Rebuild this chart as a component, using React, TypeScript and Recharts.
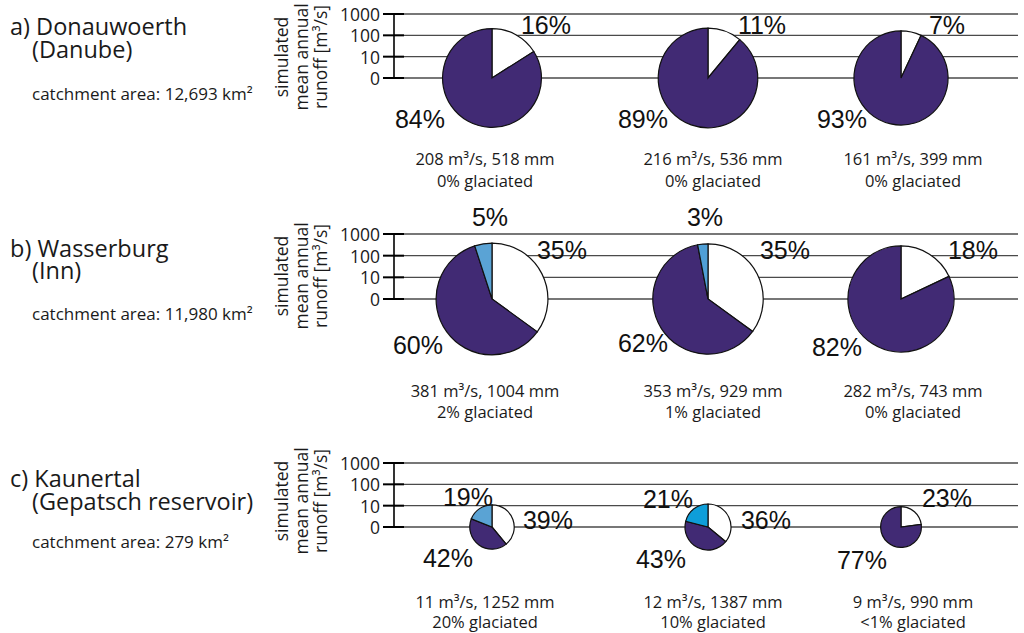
import React from "react";
import { ComposedChart, CartesianGrid, XAxis, YAxis, Line, PieChart, Pie, Cell } from "recharts";

const catchments = ["a) Donauwoerth", "b) Wasserburg", "c) Kaunertal"];
const rivers = ["(Danube)", "(Inn)", "(Gepatsch reservoir)"];
const areas = ["12,693", "11,980", "279"];
const yTicks = [0, 10, 100, 1000];

// runoff components in %, one row per catchment, three periods each
const snowmelt = [[16, 11, 7], [35, 35, 18], [39, 36, 23]];
const rainfall = [[84, 89, 93], [60, 62, 82], [42, 43, 77]];
const icemelt = [[0, 0, 0], [5, 3, 0], [19, 21, 0]];
const runoffM3 = [[208, 216, 161], [381, 353, 282], [11, 12, 9]];
const runoffMm = [[518, 536, 399], [1004, 929, 743], [1252, 1387, 990]];
const glaciated = [["0%", "0%", "0%"], ["2%", "1%", "0%"], ["20%", "10%", "<1%"]];

// layout
const W = 1024;
const H = 633;
const AXIS_X = 394;
const PLOT_RIGHT = 1018;
const Y_AXIS_W = 60;
const PIE_X = [492, 708, 901];
const CAPTION_X = [485, 713, 913];
const SANS = "'Open Sans', 'Noto Sans', sans-serif";
const PCT_FONT = "'Liberation Sans', Arial, sans-serif";
const PURPLE = "#412a74";

const rows = [
  { top: 0, height: 200, y1000: 14, y0: 78, titleY: [35, 58, 100], captionY: [165, 187], axisLabelY: 57 },
  { top: 200, height: 230, y1000: 234, y0: 299, titleY: [257, 279, 320], captionY: [397, 418], axisLabelY: 276 },
  { top: 430, height: 203, y1000: 463, y0: 527, titleY: [487, 510, 548], captionY: [608, 628], axisLabelY: 501 },
];

// label offsets from the pie centre: [snowmelt, rainfall, icemelt]
const labelOffsets = [
  [[[54, -53], [-72, 41], null], [[54, -53], [-65, 41], null], [[46, -53], [-59, 41], null]],
  [[[70, -49], [-74, 46], [-2, -82]], [[77, -49], [-65, 44], [-3, -82]], [[72, -49], [-64, 48], null]],
  [[[56, -7], [-44, 31], [-24, -30]], [[58, -7], [-47, 32], [-40, -28]], [[46, -29], [-39, 33], null]],
];
const iceColors = [
  ["#5aa3d5", "#5aa3d5", "#5aa3d5"],
  ["#5aa3d5", "#4f9fd6", "#5aa3d5"],
  ["#5aa3d4", "#0e9ed9", "#5aa3d4"],
];

const tickData = yTicks.map((t, i) => ({ idx: i, label: t }));

function AxisTick(props: any) {
  const { y, payload } = props;
  return (
    <g>
      <line x1={AXIS_X - 11} x2={AXIS_X + 10} y1={y} y2={y} stroke="#000" strokeWidth={2} />
      <text x={AXIS_X - 14} y={y} textAnchor="end" dominantBaseline="central" fontSize={17.5} fontFamily={SANS} fill="#1a1a1a">
        {yTicks[payload.value]}
      </text>
    </g>
  );
}

function Row({ r }: { r: number }) {
  const row = rows[r];
  const top = row.y1000 - row.top;
  const zero = row.y0 - row.top;
  const unit = (zero - top) / (yTicks.length - 1);

  return (
    <div style={{ position: "absolute", left: 0, top: row.top, width: W, height: row.height }}>
      <div style={{ position: "absolute", left: 0, top: 0 }}>
        <ComposedChart
          width={W}
          height={row.height}
          data={tickData}
          margin={{ top, bottom: row.height - zero, left: AXIS_X - Y_AXIS_W, right: W - PLOT_RIGHT }}
        >
          <CartesianGrid vertical={false} stroke="#4a4a4a" strokeWidth={1.3} />
          <XAxis type="number" dataKey="idx" domain={[0, yTicks.length - 1]} allowDataOverflow hide />
          <YAxis
            type="number"
            domain={[0, yTicks.length - 1]}
            allowDataOverflow
            ticks={yTicks.map((_, i) => i)}
            interval={0}
            width={Y_AXIS_W}
            axisLine={{ stroke: "#000", strokeWidth: 1.6 }}
            tickLine={false}
            tick={AxisTick}
          />
          <Line dataKey="idx" stroke="none" dot={false} activeDot={false} isAnimationActive={false} />
        </ComposedChart>
      </div>
      <div style={{ position: "absolute", left: 0, top: 0 }}>
        <PieChart width={W} height={row.height} margin={{ top: 0, right: 0, bottom: 0, left: 0 }}>
          {PIE_X.map((cx, c) => {
            const all = [
              { name: "snowmelt", value: snowmelt[r][c], fill: "#ffffff", off: labelOffsets[r][c][0] },
              { name: "rainfall", value: rainfall[r][c], fill: PURPLE, off: labelOffsets[r][c][1] },
              { name: "icemelt", value: icemelt[r][c], fill: iceColors[r][c], off: labelOffsets[r][c][2] },
            ];
            const slices = all.filter((s) => s.value > 0);
            // pie radius = runoff on the log axis
            const radius = Math.log10(runoffM3[r][c]) * unit;
            return (
              <Pie
                key={c}
                data={slices}
                dataKey="value"
                nameKey="name"
                cx={cx}
                cy={zero}
                outerRadius={radius}
                startAngle={90}
                endAngle={-270}
                stroke="#111"
                strokeWidth={1.2}
                isAnimationActive={false}
                labelLine={false}
                label={(p: any) => {
                  const off = slices[p.index]?.off;
                  if (!off) return null;
                  return (
                    <text
                      key={p.index}
                      x={p.cx + off[0]}
                      y={p.cy + off[1]}
                      textAnchor="middle"
                      dominantBaseline="central"
                      fontSize={25}
                      fontFamily={PCT_FONT}
                      fill="#111"
                    >
                      {`${slices[p.index].value}%`}
                    </text>
                  );
                }}
              >
                {slices.map((s, i) => (
                  <Cell key={i} fill={s.fill} />
                ))}
              </Pie>
            );
          })}
        </PieChart>
      </div>
    </div>
  );
}

export default function App() {
  return (
    <div style={{ position: "absolute", left: 0, top: 0, width: W, height: H, background: "#fff", overflow: "hidden" }}>
      {rows.map((_, r) => (
        <Row key={r} r={r} />
      ))}
      <svg width={W} height={H} style={{ position: "absolute", left: 0, top: 0, pointerEvents: "none" }}>
        {rows.map((row, r) => (
          <g key={r} fontFamily={SANS} fill="#1a1a1a">
            <text fontSize={23.5}>
              <tspan x={10} y={row.titleY[0]}>{catchments[r]}</tspan>
              <tspan x={32} y={row.titleY[1]}>{rivers[r]}</tspan>
            </text>
            <text x={32} y={row.titleY[2]} fontSize={17}>{`catchment area: ${areas[r]} km²`}</text>
            <text transform={`translate(288,${row.axisLabelY}) rotate(-90)`} textAnchor="middle" fontSize={17.5}>
              {["simulated", "mean annual", "runoff [m³/s]"].map((t, i) => (
                <tspan key={t} x={0} y={i * 19.5}>
                  {t}
                </tspan>
              ))}
            </text>
            {CAPTION_X.map((x, c) => (
              <text key={c} fontSize={16.5} textAnchor="middle">
                <tspan x={x} y={row.captionY[0]}>{`${runoffM3[r][c]} m³/s, ${runoffMm[r][c]} mm`}</tspan>
                <tspan x={x} y={row.captionY[1]}>{`${glaciated[r][c]} glaciated`}</tspan>
              </text>
            ))}
          </g>
        ))}
      </svg>
    </div>
  );
}
